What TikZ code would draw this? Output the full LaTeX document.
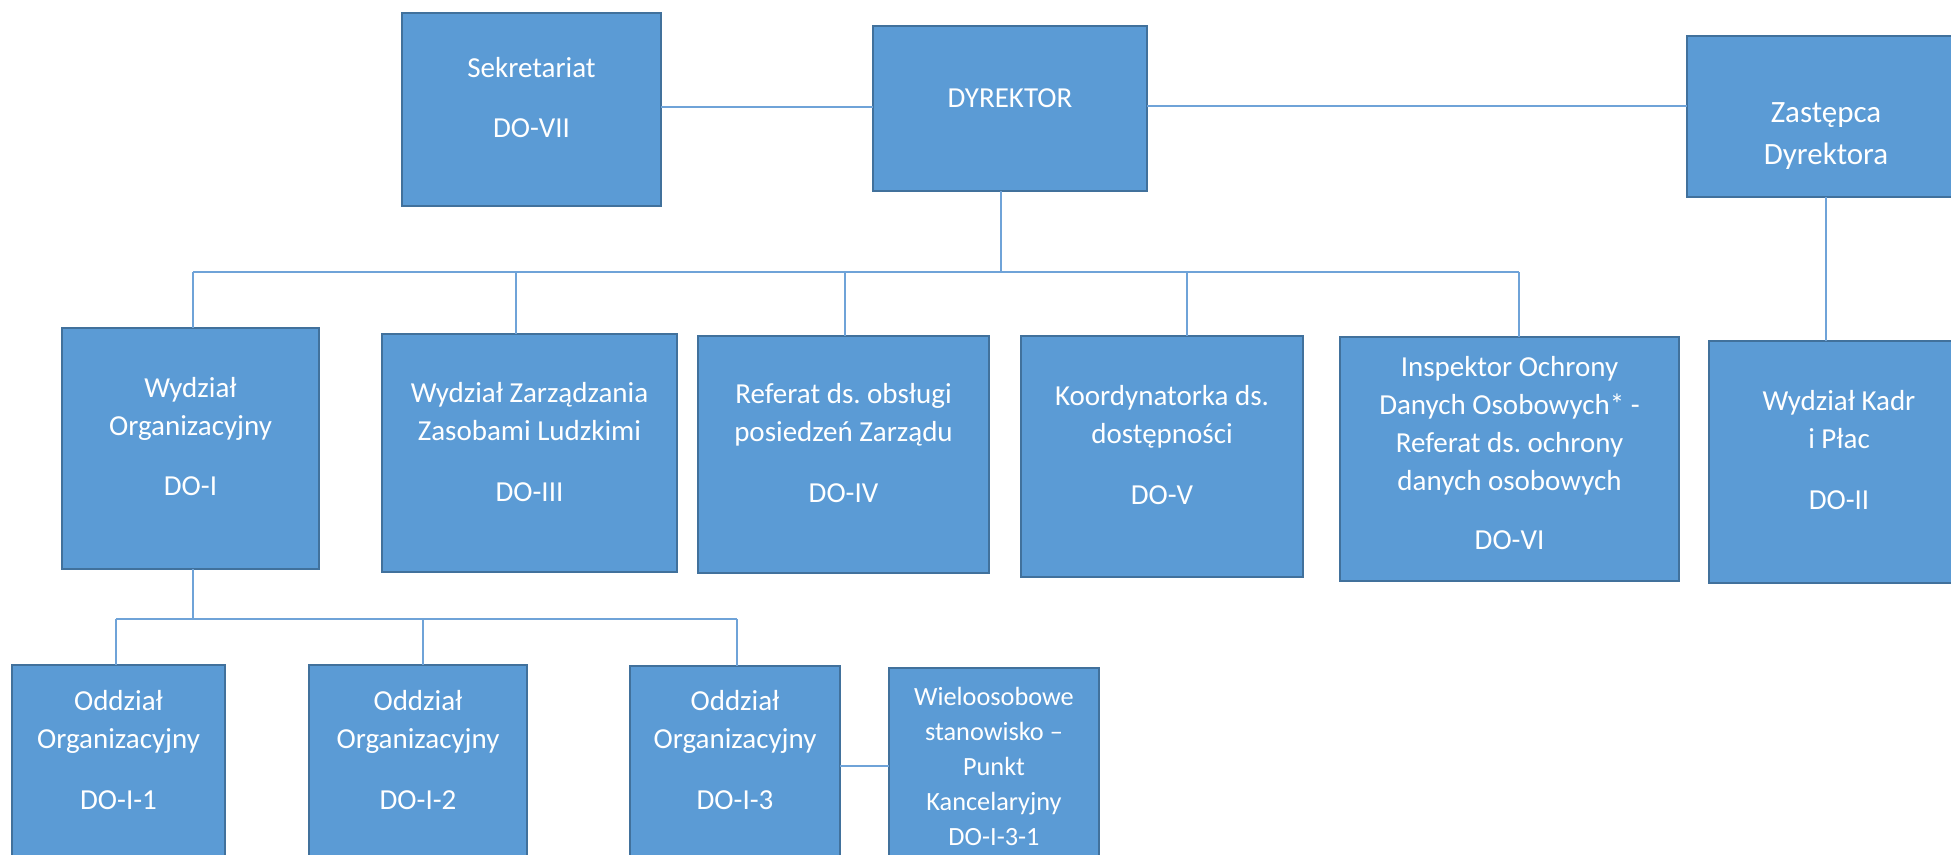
\documentclass[tikz,border=0pt]{standalone}
\usepackage{fontspec}
\setmainfont{Carlito}
\usetikzlibrary{positioning}
\definecolor{boxfill}{HTML}{5B9BD5}
\definecolor{boxline}{HTML}{41719C}
\definecolor{linkblue}{HTML}{6FA3D8}
\newcommand{\orgSize}[0]{\fontsize{29}{38}\selectfont}
\newcommand{\bigSize}[0]{\fontsize{31}{41.5}\selectfont}
\newcommand{\smallSize}[0]{\fontsize{26.3}{35}\selectfont}
\frenchspacing

\begin{document}
\begin{tikzpicture}[x=1pt, y=-1pt]
  \tikzset{unit/.style={draw=boxline, fill=boxfill, line width=2.3pt, inner sep=0pt, outer sep=0pt},
           caption/.style={anchor=north, inner sep=0pt, align=center, text=white, font=\orgSize},
           link/.style={draw=linkblue, line width=1.4pt}}
  \useasboundingbox (0,0) rectangle (1951,854);
  \clip (0,0) rectangle (1951,854);
  \coordinate (bus) at (0,272);
  \coordinate (subbus) at (0,619);

  % top row
  \node[unit, minimum width=259pt, minimum height=193pt] (sek) at (531.5,109.5) {};
  \node[unit, minimum width=274pt, minimum height=165pt] (dyr) at (1010,108.5) {};
  \node[unit, minimum width=278pt, minimum height=161pt] (zast) at (1826,116.5) {};
  % middle row
  \node[unit, minimum width=257pt, minimum height=241pt] (wo) at (190.5,448.5) {};
  \node[unit, minimum width=295pt, minimum height=238pt] (wz) at (529.5,453) {};
  \node[unit, minimum width=291pt, minimum height=237pt] (ref) at (843.5,454.5) {};
  \node[unit, minimum width=282pt, minimum height=241pt] (koord) at (1162,456.5) {};
  \node[unit, minimum width=339pt, minimum height=244pt] (insp) at (1509.5,459) {};
  \node[unit, minimum width=260pt, minimum height=242pt] (kadr) at (1839,462) {};
  % bottom row
  \node[unit, minimum width=213pt, minimum height=201pt] (odd1) at (118.5,765.5) {};
  \node[unit, minimum width=218pt, minimum height=201pt] (odd2) at (418,765.5) {};
  \node[unit, minimum width=210pt, minimum height=200pt] (odd3) at (735,766) {};
  \node[unit, minimum width=210pt, minimum height=198pt] (wielo) at (994,767) {};

  % texts
  \node[caption, below=37.4pt of sek.north] (sek-txt) {\strut Sekretariat\\[22pt] DO-VII};
  \node[caption, below=54.4pt of dyr.north] (dyr-txt) {\strut DYREKTOR};
  \node[caption, font=\bigSize, below=57.5pt of zast.north] (zast-txt) {\strut Zastępca\\ Dyrektora};
  \node[caption, below=42.4pt of wo.north] (wo-txt) {\strut Wydział\\ Organizacyjny\\[22pt] DO-I};
  \node[caption, below=41.9pt of wz.north] (wz-txt) {\strut Wydział Zarządzania\\ Zasobami Ludzkimi\\[23pt] DO-III};
  \node[caption, below=40.4pt of ref.north] (ref-txt) {\strut Referat ds. obsługi\\ posiedzeń Zarządu\\[23pt] DO-IV};
  \node[caption, below=42.4pt of koord.north] (koord-txt) {\strut Koordynatorka ds.\\ dostępności\\[23pt] DO-V};
  \node[caption, below=12.4pt of insp.north] (insp-txt) {\strut Inspektor Ochrony\\ Danych Osobowych* -\\ Referat ds. ochrony\\ danych osobowych\\[21pt] DO-VI};
  \node[caption, below=43.1pt of kadr.north] (kadr-txt) {\strut Wydział Kadr\\ i Płac\\[23pt] DO-II};
  \node[caption, below=18.4pt of odd1.north] (odd1-txt) {\strut Oddział\\ Organizacyjny\\[23pt] DO-I-1};
  \node[caption, below=18.4pt of odd2.north] (odd2-txt) {\strut Oddział\\ Organizacyjny\\[23pt] DO-I-2};
  \node[caption, below=18.1pt of odd3.north] (odd3-txt) {\strut Oddział\\ Organizacyjny\\[23pt] DO-I-3};
  \node[caption, font=\smallSize, below=12.5pt of wielo.north] (wielo-txt) {\strut Wieloosobowe\\ stanowisko –\\ Punkt\\ Kancelaryjny\\ DO-I-3-1};

  % connectors
  \draw[link] ([yshift=2.5pt]sek.east) -- ([yshift=2.5pt]sek.east -| dyr.west);
  \draw[link] ([yshift=2.5pt]dyr.east) -- ([yshift=2.5pt]dyr.east -| zast.west);
  \draw[link] ([xshift=-9pt]dyr.south) -- ([xshift=-9pt]dyr.south |- bus);
  \draw[link] ([xshift=2.5pt]wo.north |- bus) -- ([xshift=9.5pt]insp.north |- bus);
  \foreach \b/\dx in {wo/2.5, wz/-13.5, ref/1.5, koord/25, insp/9.5}
    \draw[link] ([xshift=\dx pt]\b.north) -- ([xshift=\dx pt]\b.north |- bus);
  \draw[link] (zast.south) -- (zast.south |- kadr.north);
  \draw[link] ([xshift=2.5pt]wo.south) -- ([xshift=2.5pt]wo.south |- subbus);
  \draw[link] ([xshift=-2.5pt]odd1.north |- subbus) -- ([xshift=2pt]odd3.north |- subbus);
  \foreach \b/\dx in {odd1/-2.5, odd2/5, odd3/2}
    \draw[link] ([xshift=\dx pt]\b.north) -- ([xshift=\dx pt]\b.north |- subbus);
  \draw[link] (odd3.east) -- (odd3.east -| wielo.west);
\end{tikzpicture}
\end{document}
